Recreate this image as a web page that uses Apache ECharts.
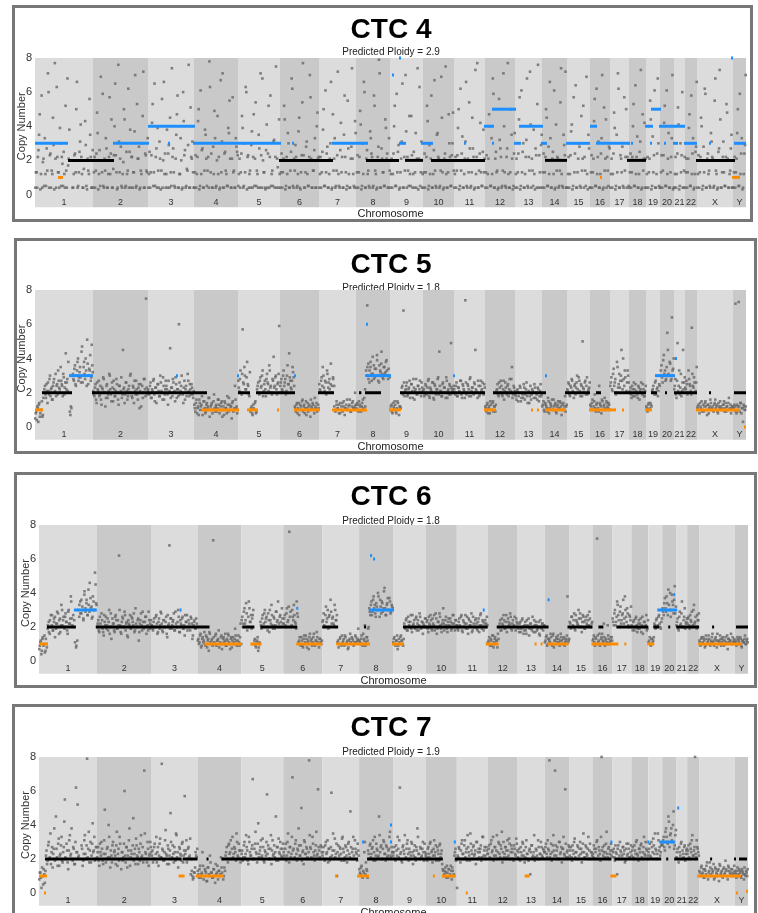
<!DOCTYPE html>
<html>
<head>
<meta charset="utf-8">
<script src="https://cdn.jsdelivr.net/npm/echarts@6/dist/echarts.min.js"></script>
<style>
  html, body { margin: 0; padding: 0; background: #fff; width: 758px; height: 913px; overflow: hidden; }
  .chart { position: absolute; }
  .frame { position: absolute; border: 3px solid #777; box-sizing: border-box; pointer-events: none; }
</style>
</head>
<body>
<script>
// chromosomes, widths in plot units (roughly proportional to length)
const chromNames = ['1','2','3','4','5','6','7','8','9','10','11','12','13','14','15','16','17','18','19','20','21','22','X','Y'];
const chromSizes = [58,55,46,44,42,39,37,34,33,31,31,30,27,25,23,20,19,17,14,14,11,12,36,13];
const yTicks = [0, 2, 4, 6, 8];

// copy number per bin, in tenths, one list per chromosome (null = no bin)
// two interleaved bin sets (A/B) per cell
const ctc4Ploidy = 2.9;
const ctc4BinsA = [
  [4,13,22,35,3,58,19,5,12,27,71,4,24,14,45,3,21,63,13,4,30,22,5,12,52,4,17,38,null,null,4,23,13,66,5,25,41,12,4,20,29,3,14,56,22,4],
  [4,22,14,48,3,26,69,13,5,21,33,4,12,57,24,4,15,40,23,3,76,13,28,4,19,44,5,12,62,25,4,22,13,37,4,53,21,3,14,30,72,4,23,13],
  [4,25,13,42,5,65,22,4,14,31,3,56,20,12,4,38,24,4,13,74,27,5,21,47,4,12,33,3,60,23,4,15,29,4,51,21,13],
  [4,23,12,43,3,61,26,4,14,35,5,22,78,13,4,28,49,4,20,12,3,67,31,4,24,14,5,39,55,4,21,13,4,33,25],
  [5,21,13,46,4,30,63,3,23,12,4,37,22,5,54,14,4,27,71,4,20,13,3,41,24,4,58,12,5,32,22,4,16,44],
  [4,24,13,52,3,22,36,4,14,68,5,21,29,4,12,45,3,23,77,4,13,31,5,22,57,4,14,26,4,40,21],
  [4,22,13,38,5,61,24,4,12,30,3,47,21,4,14,72,5,26,13,4,35,22,3,55,12,4,28,21,5,43],
  [4,23,13,49,3,30,66,4,21,12,5,37,24,4,58,14,3,22,79,4,27,13,5,44,21,4,33],
  [4,21,12,40,5,59,25,3,13,31,4,22,70,4,14,46,5,23,12,4,36,21,3,63,13,4],
  [4,24,13,52,3,29,21,4,12,67,5,35,22,4,14,45,3,21,75,4,13,30,5,23,48],
  [4,22,14,39,3,62,24,4,12,31,5,21,54,4,13,27,3,73,22,4,14,42,5,25,13],
  [4,23,12,47,5,33,68,4,21,13,3,56,27,4,14,40,5,22,77,4,13,35,3,24],
  [4,21,13,44,3,61,25,4,12,32,5,22,72,4,14,38,3,23,53,4,13,29],
  [4,24,13,50,5,28,66,4,21,12,3,41,22,4,14,74,5,35,23,4],
  [4,22,12,37,3,57,24,4,13,30,5,46,21,4,14,69,3,27],
  [4,23,13,43,5,62,22,4,12,33,3,51,21,4,14,28],
  [4,21,12,48,3,35,71,4,23,13,5,57,22,4,30],
  [4,24,13,40,5,64,22,4,12,31,3,47,21,4],
  [4,22,13,55,3,34,23,4,12,68,5],
  [4,23,14,42,5,61,21,4,13,33,3],
  [4,22,12,51,3,30,23,4,14],
  [4,21,13,39,5,58,24,3,12,28],
  [4,23,13,45,3,28,62,4,21,12,5,36,22,4,55,14,3,25,73,4,13,31,5,22,48,4,12,27,4],
  [4,22,13,36,5,59,24,3,12,29]
];
const ctc4BinsB = [
  [13,4,26,47,12,4,21,33,5,14,60,23,4,12,29,77,4,22,13,39,5,18,25,4,14,68,21,null,null,4,12,24,50,4,13,31,22,4,15,43,5,21,12,35,4,26],
  [13,4,24,36,12,5,20,59,4,14,27,4,22,12,44,4,23,65,13,4,31,21,5,12,50,4,25,14,4,38,22,4,13,70,5,21,28,4,12,46,4,24,14,33],
  [12,4,23,53,13,5,27,39,4,21,14,4,66,24,12,4,29,45,5,22,13,4,35,58,4,12,20,4,43,26,5,14,76,4,22,31,4],
  [13,4,22,50,5,12,27,4,38,21,14,4,63,24,4,12,33,5,46,22,4,13,71,4,25,12,5,36,21,4,57,14,4,28,23],
  [12,4,24,39,5,13,60,22,4,14,29,4,47,21,5,12,35,4,23,68,13,4,26,4,52,22,5,14,31,4,75,21,4,12],
  [13,4,21,44,5,12,30,4,25,62,4,14,22,5,37,4,13,54,23,4,28,12,5,70,21,4,14,33,4,48,22],
  [12,4,25,50,5,13,28,4,21,66,4,14,33,5,23,12,4,42,22,4,58,13,5,27,4,21,74,12,4,36],
  [13,4,22,41,5,12,60,4,26,14,4,33,22,5,52,12,4,28,71,4,21,13,5,39,24,4,14],
  [12,4,24,52,5,13,29,4,21,65,4,14,37,22,5,12,46,4,25,13,4,74,21,5,31,12],
  [13,4,22,43,5,12,58,4,26,14,4,36,21,5,69,13,4,24,12,4,47,22,5,30,14],
  [12,4,23,50,5,14,34,4,21,66,4,13,27,5,45,22,4,12,77,4,24,13,5,38,21],
  [13,4,21,40,5,12,59,4,25,14,4,32,22,5,71,13,4,27,12,4,50,21,5,36],
  [12,4,24,57,5,13,30,4,22,68,4,14,41,21,5,12,27,4,76,23,4,35],
  [13,4,22,45,5,12,33,4,25,61,4,14,21,5,54,12,4,29,72,4],
  [12,4,23,41,5,13,64,4,21,28,4,14,52,22,5,12,35,4],
  [13,4,21,56,5,12,31,4,24,70,4,14,44,22,5,27],
  [12,4,24,39,5,13,62,4,21,28,4,14,50,22,5],
  [13,4,22,53,5,12,34,4,25,73,4,14,42,21],
  [12,4,21,44,5,13,61,4,24,30,4],
  [13,4,23,52,5,12,36,4,22,70,4],
  [12,4,24,41,5,13,60,4,22],
  [13,4,21,47,5,12,33,4,25,66],
  [12,4,22,40,5,13,59,4,24,14,4,31,21,5,68,12,4,27,44,4,22,13,5,53,21,4,14,35,4],
  [13,4,21,50,5,12,33,4,24,70]
];
// segments: [start, end, copy number] in genome units
const ctc4Segments = [
  [0,33,3],[23,28,1],[33,79,2],[78,114,3],[113,160,4],[133,135,3],[158,246,3],[257,259,3],[244,298,2],
  [297,333,3],[331,364,2],[357,359,7],[364,366,8],[364,371,3],[370,388,2],[386,398,3],[396,450,2],[429,431,3],
  [449,459,4],[457,481,5],[457,459,3],[479,486,3],[484,508,4],[506,512,3],[510,532,2],[531,555,3],[555,562,4],
  [565,567,1],[561,595,3],[596,598,3],[592,611,2],[610,618,4],[616,626,5],[615,617,3],[624,640,4],[629,631,3],
  [640,650,4],[638,643,3],[649,662,3],[674,676,3],[661,700,2],[696,698,8],[697,705,1],[699,711,3]
];

const ctc5Ploidy = 1.8;
const ctc5BinsA = [
  [5,9,12,3,14,8,10,6,17,22,19,25,14,21,28,18,23,16,26,20,31,24,19,27,22,35,25,18,29,23,43,26,21,null,9,12,null,31,27,36,24,33,40,29,35,26,47,30,38,28,33,51,25,34,42,29,36],
  [21,18,25,14,22,27,19,16,23,29,20,12,24,17,21,30,19,26,15,22,18,28,20,13,24,21,17,45,23,19,26,16,22,20,31,18,24,14,21,27,19,23,11,25,20,17,28,22,75,19],
  [22,19,26,17,21,28,15,23,20,25,18,30,21,16,24,19,27,22,13,20,46,23,18,26,21,29,17,22,60,19,24,20,14,27,22,18,31,21,25,19,23,17],
  [13,9,16,11,7,14,12,18,10,15,8,13,11,17,6,12,14,10,19,9,13,11,16,8,12,15,10,7,14,11,18,9,13,12,5,15,10,24,11,8],
  [27,21,33,19,57,25,30,22,38,24,18,9,12,7,11,14,8,22,26,19,29,24,33,21,27,18,31,25,36,23,20,28,41,24,30,19,26,59],
  [24,28,21,33,26,19,30,25,43,27,22,35,29,12,9,14,11,7,13,10,16,12,8,15,11,9,13,6,12,14,10,17,11,9,13],
  [25,21,29,35,23,27,19,31,26,22,37,24,28,12,9,15,11,13,8,10,14,12,7,11,16,10,13,9,12,15,11,20],
  [11,14,9,13,20,12,16,10,22,33,71,37,26,35,31,41,28,34,30,39,27,36,32,44,29,35,31,38,33,28,30],
  [10,13,8,12,15,9,11,14,7,12,20,24,68,18,22,26,19,23,17,25,21,28,16,22,19,24,20,27,18,23],
  [21,18,25,19,23,28,17,22,20,26,16,24,19,22,29,44,21,18,25,20,23,17,27,21,19,24,49,22,20],
  [22,19,26,18,23,20,27,17,24,21,74,19,25,22,28,18,23,20,26,45,21,17,24,19,27,22,20,25],
  [12,9,14,11,8,13,10,15,12,9,21,25,18,23,27,19,22,16,26,20,24,18,28,21,35,19,23],
  [19,16,22,18,24,15,20,17,23,19,26,14,21,18,16,22,20,25,17,19,23,15,21,18],
  [12,15,9,13,11,17,8,14,12,10,16,13,9,12,15,11,14,7,13,10,18,12],
  [22,26,19,24,28,21,17,25,23,30,20,27,18,24,50,22,26,19,29,21,23],
  [13,10,16,12,19,9,14,11,24,13,8,15,12,17,10,14,11,13],
  [24,29,21,34,26,19,38,23,31,27,45,22,28,33,20,26,30],
  [20,23,17,22,26,18,21,19,24,16,22,20,25,18,21],
  [12,9,14,11,13,21,24,19,27,22,18,25],
  [30,36,26,42,33,28,55,31,38,27,64,34],
  [22,28,17,49,24,19,31,21,45,26],
  [23,27,19,33,25,21,58,24,29,20,26],
  [11,13,8,12,15,10,9,14,12,7,13,11,16,10,12,9,14,11,13,8,12,15,10,11,13,9,14,12,10,17,11,8,12],
  [10,13,72,8,12,73,9,14,11,3,12,10]
];
const ctc5BinsB = [
  [8,4,11,13,6,10,15,7,20,24,17,21,26,19,30,22,16,24,28,21,18,25,33,23,20,27,24,31,19,26,22,28,38,null,7,11,null,28,34,25,30,38,27,32,29,44,26,35,31,40,24,37,30,33,27,48,32],
  [19,23,16,26,21,18,24,13,22,28,20,17,25,19,31,22,15,23,27,18,21,25,16,24,20,29,19,22,14,26,21,18,24,30,20,17,23,27,19,22,16,25,21,12,24,20,28,18,23,21],
  [20,24,17,22,27,19,23,14,25,21,18,26,20,29,16,22,24,19,27,21,17,23,28,20,15,25,22,18,26,21,30,19,23,16,24,20,27,18,22,25,19,21],
  [11,14,8,12,16,10,13,7,15,11,9,14,12,17,10,13,8,15,11,12,9,16,13,10,14,6,12,15,11,8,13,17,10,12,14,9,11,16,12,10],
  [23,28,20,31,26,35,22,29,25,19,32,11,8,13,10,15,9,24,20,27,23,30,18,25,22,28,26,21,33,24,19,27,23,29,22,25,31,20],
  [26,22,30,24,28,21,36,25,29,23,27,32,24,11,13,8,14,10,12,15,9,13,11,7,14,12,10,16,11,13,8,12,14,10,11],
  [22,27,24,30,21,26,33,23,28,25,20,29,24,10,13,11,8,14,12,9,15,11,13,10,12,16,9,14,11,12,13],
  [13,10,15,12,9,14,11,17,12,30,35,28,33,38,27,31,36,29,34,42,30,26,33,37,31,28,35,32,39,30,34,29],
  [12,9,14,11,13,8,15,10,12,11,23,19,26,21,24,18,22,27,20,25,17,23,21,28,19,24,22,20,26,21],
  [22,19,24,20,27,18,23,21,26,17,25,20,22,28,19,24,21,18,26,23,20,29,17,22,25,19,23,21,24],
  [20,24,18,23,21,27,19,25,22,17,26,20,24,18,29,21,23,19,25,22,20,27,18,24,21,26,19,23],
  [11,13,8,12,15,10,14,9,12,13,22,19,26,20,24,18,27,21,23,19,25,22,20,28,17,24,21],
  [18,21,15,20,23,17,19,25,16,22,18,20,14,24,19,21,17,23,20,16,22,18,25,19],
  [13,10,14,12,9,15,11,13,16,10,12,14,8,13,11,15,12,10,14,12,9,13],
  [21,25,18,23,27,20,24,19,26,22,29,21,25,18,23,20,27,24,19,22,26],
  [12,14,10,15,11,13,20,9,14,12,16,10,13,11,15,12,14,10],
  [26,22,31,24,28,20,35,25,23,30,27,40,24,29,21,33,26],
  [21,19,24,18,22,25,20,17,23,21,26,19,22,18,24],
  [11,13,10,14,12,22,20,26,19,23,21,24],
  [33,29,39,31,27,35,45,30,37,28,33,40],
  [24,19,27,21,33,23,18,26,22,29],
  [22,25,20,28,24,19,31,23,26,21,35],
  [12,10,14,11,9,13,12,15,10,13,8,12,14,11,10,13,16,12,9,14,11,12,10,13,15,11,9,12,14,10,13,11,12],
  [11,12,9,13,10,12,14,8,11,13,10,12]
];
const ctc5Segments = [
  [0,8,1],[7,37,2],[34,58,3],[57,172,2],[141,143,3],[167,204,1],[202,204,3],[203,215,2],[212,223,1],[221,260,2],
  [242,244,1],[259,261,3],[259,285,1],[283,299,2],[297,332,1],[324,326,2],[330,346,2],[331,356,3],[331,333,6],
  [354,366,1],[365,450,2],[418,420,3],[449,461,1],[458,511,2],[496,498,1],[502,504,1],[510,512,3],[510,531,1],
  [530,555,2],[561,566,2],[554,581,1],[587,589,1],[579,611,2],[610,617,1],[616,622,2],[620,640,3],[630,632,2],
  [640,642,4],[639,662,2],[674,676,2],[661,705,1],[699,711,2],[709,711,0]
];

const ctc6Ploidy = 1.8;
const ctc6BinsA = [
  [7,11,4,13,9,15,6,10,19,23,16,27,21,18,25,14,22,29,20,24,17,33,21,26,19,28,23,16,30,22,38,25,20,null,11,8,null,30,26,35,28,32,24,41,29,36,27,33,46,31,25,38,30,52,34],
  [20,24,17,22,28,19,15,23,26,21,18,30,20,13,25,22,17,27,19,24,62,21,16,26,20,29,18,23,14,22,27,19,25,21,17,31,20,24,12,22,28,18,23,20,26,16,21,29,19,24],
  [21,18,25,20,27,16,23,19,29,22,17,24,20,26,14,21,68,25,19,23,28,18,22,20,30,17,24,21,26,19,15,23,27,20,22,18,25,13,21,24,19,22],
  [12,10,15,8,13,11,17,9,14,12,6,16,10,13,71,11,15,9,12,18,10,14,7,13,11,16,9,12,15,10,13,8,14,11,19,12,10,15,9,22],
  [24,20,29,22,34,18,26,31,23,19,27,10,13,8,12,6,11,23,19,27,22,30,25,20,28,17,24,33,21,26,19,29,23,35,22,27,20,25],
  [22,27,20,31,24,76,29,21,26,33,23,19,28,11,14,9,12,8,15,10,13,11,7,16,12,9,14,10,12,17,11,8,13,10],
  [23,28,20,32,25,19,27,36,22,26,21,30,24,11,8,13,10,15,12,9,14,11,7,12,16,10,13,9,11,14,12,19],
  [12,10,15,9,13,21,11,14,19,31,27,35,29,38,33,26,32,40,30,36,28,34,31,43,27,33,37,30,35,29,32],
  [11,14,9,12,7,13,10,15,12,9,22,19,25,18,23,20,27,17,21,24,19,26,22,18,28,20,23,16,21,25],
  [20,24,17,22,27,19,25,21,18,28,16,23,20,26,19,22,31,18,24,21,17,25,20,23,19,27,22,18,24],
  [21,18,25,20,27,17,23,22,19,26,16,24,21,28,18,22,20,25,19,23,17,27,21,24,18,22,20,26],
  [11,14,9,12,15,8,13,10,12,16,20,24,18,22,27,19,23,17,25,21,28,19,22,20,26,18,23],
  [20,17,23,19,25,16,21,18,24,20,15,22,19,26,17,21,23,18,20,16,24,19,22,21],
  [11,14,9,13,12,16,10,15,8,12,14,11,13,9,16,12,10,14,11,13,38,12],
  [23,19,26,21,28,18,24,22,30,20,25,17,27,23,19,26,21,24,29,20,22],
  [12,15,9,13,72,11,16,10,14,12,22,9,13,11,15,10,12,14],
  [25,21,30,23,35,27,20,32,24,28,22,38,26,31,21,27,24],
  [21,18,24,20,26,17,22,19,25,21,16,23,20,27,19],
  [11,14,9,13,12,22,19,25,21,27,20,23],
  [31,27,37,29,34,42,30,26,39,33,36,28],
  [21,25,18,29,22,35,20,26,19,23],
  [22,26,19,24,29,21,33,23,20,27,24],
  [12,9,14,11,13,8,15,10,12,13,9,11,16,12,10,14,8,12,11,15,9,13,12,10,14,11,7,13,12,16,10,11,13],
  [11,9,14,12,10,13,8,12,11,15,10,13]
];
const ctc6BinsB = [
  [9,12,6,14,10,5,13,8,21,17,24,20,27,18,23,26,19,22,28,16,25,21,30,24,20,26,23,18,29,22,25,35,21,27,24,null,9,12,null,33,28,36,30,25,39,31,34,27,42,29,37,32,26,35,30,45,33],
  [22,18,26,20,24,17,27,21,19,25,23,16,28,20,22,18,26,24,19,21,30,17,23,25,20,27,22,15,24,21,19,26,23,28,18,22,20,25,17,24,21,29,19,23,26,20,18,24,22,21],
  [19,23,20,26,22,17,25,21,28,18,24,20,23,16,27,22,19,25,21,24,18,29,20,23,26,17,22,25,19,21,27,23,18,24,20,26,22,15,23,19,25,20],
  [13,11,16,9,14,12,10,15,8,13,17,11,12,9,14,10,16,12,13,8,11,15,10,14,12,9,13,16,11,7,14,12,10,13,15,9,12,11,14,10],
  [26,22,31,24,28,20,35,23,27,25,30,12,9,11,14,8,10,21,25,20,28,23,26,18,24,30,22,27,19,25,21,29,24,20,26,23,31,22],
  [25,21,28,23,32,26,20,30,24,27,22,35,26,12,10,14,9,13,11,15,8,12,14,10,13,11,16,9,12,14,10,13,11,12],
  [24,21,27,23,30,26,20,29,25,22,33,24,27,12,10,14,9,11,13,15,10,12,8,13,11,14,12,10,15,11,13,12],
  [11,13,10,16,12,9,14,12,20,29,33,27,36,31,28,34,30,38,26,32,35,29,41,31,27,34,30,37,28,33,31],
  [13,10,12,15,9,11,14,12,10,13,20,24,18,26,21,23,19,27,22,20,25,18,24,21,26,19,23,22,20,25],
  [23,19,26,21,24,18,22,27,20,25,19,23,28,21,17,24,22,20,26,19,23,21,25,18,22,27,20,24,21],
  [19,23,21,26,18,24,20,27,22,19,25,21,23,17,26,20,24,22,18,25,21,28,19,23,20,24,22,21],
  [12,10,13,9,15,11,14,12,8,13,22,18,25,21,24,19,27,20,23,22,26,18,24,21,20,25,22],
  [19,22,17,24,20,18,23,16,21,25,19,22,18,20,24,17,21,19,23,15,20,22,18,21],
  [12,15,10,13,11,14,9,16,12,10,13,15,11,12,14,10,13,9,12,15,11,13],
  [22,26,20,24,19,27,23,21,25,28,20,23,26,19,24,22,27,21,25,20,23],
  [13,11,14,10,15,12,9,13,16,11,14,12,10,21,13,11,14,12],
  [23,28,21,26,33,24,29,22,27,36,25,30,23,28,20,26,32],
  [20,23,18,25,21,19,24,22,17,26,20,23,21,18,24],
  [12,10,13,11,14,21,24,20,26,22,19,25],
  [29,34,31,38,27,33,40,30,35,28,44,32],
  [23,19,26,21,28,20,24,31,22,25],
  [25,21,27,23,20,30,22,26,19,24,28],
  [11,13,10,14,12,9,13,11,15,10,12,14,11,9,13,12,16,10,12,13,11,14,9,12,10,15,13,11,12,10,14,12,11],
  [12,10,13,11,14,9,12,11,13,10,12,11]
];
const ctc6Segments = [
  [1,9,1],[8,37,2],[35,58,3],[57,171,2],[141,143,3],[166,203,1],[204,216,2],[212,223,1],[222,259,2],[258,260,3.1],
  [258,284,1],[284,300,2],[298,332,1],[326,328,2],[331,356,3],[332,334,6.2],[335,337,6],[354,366,1],[365,450,2],
  [445,447,3],[448,461,1],[459,511,2],[497,499,1],[503,505,1],[510,512,3.6],[510,531,1],[530,555,2],[561,566,2],
  [554,581,1],[587,589,1],[579,611,2],[610,617,1],[616,622,2],[620,640,3],[631,633,2],[636,638,3.9],[639,662,2],
  [675,677,2],[661,705,1],[699,711,2]
];

const ctc7Ploidy = 1.9;
const ctc7BinsA = [
  [8,12,3,10,14,6,22,17,28,20,35,24,15,26,19,45,21,29,16,23,33,18,27,55,20,25,14,31,22,38,19,26,17,62,24,21,null,null,28,16,23,34,20,79,26,18,30,22,41,25,19,27],
  [21,27,16,24,30,19,23,49,18,26,21,33,15,22,28,20,25,17,36,23,19,29,14,24,21,60,18,27,22,31,16,25,20,44,23,17,28,21,26,19,34,22,18,72,24,20,30,16,23,27],
  [22,18,27,20,33,24,16,29,21,76,25,19,31,23,17,26,22,47,20,28,18,24,35,21,15,27,23,19,30,22,57,25,18,26,21,32,20,10,9,12,24,21],
  [13,9,16,11,24,8,14,12,7,15,10,18,12,9,14,6,11,16,13,10,21,12,8,15,22,27,18,29,24,20,33,23,26,19,30,21,25,18],
  [23,19,28,21,34,25,17,30,22,26,67,20,29,24,18,41,23,27,21,32,19,25,22,58,28,20,26,17,31,23,21,45,27,19,24,30,22,26],
  [24,20,29,22,35,18,27,23,68,26,21,31,19,25,28,22,50,24,17,30,23,26,20,78,27,21,33,24,19,28,22,61,25,20,27],
  [22,27,19,30,24,18,26,21,59,25,20,32,23,10,28,22,26,19,33,24,21,27,18,29,23,48,20,26,22,31,24,19,25],
  [14,11,16,9,12,30,18,13,25,20,29,23,27,19,33,22,26,21,45,24,28,20,31,23,19,27,22,26,36,21,24],
  [22,27,19,25,33,21,62,24,18,28,23,20,26,31,19,24,22,29,17,25,21,27,38,23,20,26,22,30,19,24],
  [23,19,27,21,30,24,18,26,22,28,20,25,19,29,23,17,13,11,15,9,12,14,10,16,8,13,11,24,19],
  [3,21,26,18,29,23,20,31,24,19,27,22,35,25,20,28,23,17,30,24,21,26,19,33,22,27,20,25],
  [23,28,20,31,25,19,27,22,34,24,29,21,26,18,30,23,27,21,25,32,20,28,24,19,26,22,29],
  [21,26,19,24,30,22,18,27,23,20,25,11,28,21,24,19,26,22,31,20,23,27,21,25],
  [24,29,21,26,78,23,19,28,25,72,22,27,20,30,24,18,26,23,61,21,25,28],
  [22,27,19,25,30,21,24,28,20,26,23,18,29,24,21,27,22,33,25,20,24],
  [23,28,20,26,31,22,25,19,80,27,24,21,29,23,26,20,25,22],
  [21,26,19,24,11,28,22,25,20,27,23,18,26,22,29,21,24],
  [22,27,20,25,30,23,19,26,28,21,24,33,22,26,20],
  [24,29,21,27,32,23,26,20,35,25,22,28],
  [28,33,25,38,30,45,27,35,31,40,26,34],
  [21,26,18,24,29,20,23,27,19,25],
  [23,28,20,26,31,22,25,80,21,27,24],
  [13,10,16,12,9,14,11,18,8,13,15,10,12,17,9,14,11,13,7,16,12,10,14,11,19,13,8,15,12,10,14,11,16],
  [12,9,15,11,13,10,14,12,8,11,13,10]
];
const ctc7BinsB = [
  [12,9,15,5,11,13,25,19,30,21,17,27,23,38,20,26,16,32,22,28,19,24,42,21,29,18,25,34,23,20,27,17,30,24,52,22,null,null,26,19,31,23,28,21,36,25,18,29,24,33,20,27],
  [24,19,29,22,26,17,31,23,20,27,40,21,25,18,30,24,22,28,16,26,33,20,24,19,29,22,27,15,25,38,21,23,28,19,26,32,22,17,24,29,21,27,20,35,23,18,26,22,30,24],
  [25,20,29,23,18,27,22,32,21,26,19,24,37,22,28,17,25,30,21,23,27,19,34,24,20,26,22,29,18,25,23,31,20,27,22,11,13,8,12,15,22,26],
  [11,14,9,12,16,10,13,7,15,11,22,12,9,14,10,17,12,8,13,11,15,20,10,13,24,20,28,23,31,26,21,27,24,35,22,29,25,20],
  [25,21,30,23,27,19,33,24,22,28,20,26,36,23,29,21,25,31,22,27,18,24,30,23,26,20,34,25,22,28,24,19,27,32,23,26,21,29],
  [22,26,19,30,24,27,21,33,25,20,29,23,26,38,22,28,19,25,31,23,27,21,24,34,26,20,29,22,25,36,23,27,21,28,24],
  [24,20,28,23,31,26,19,27,22,35,25,21,29,24,20,27,23,32,26,19,28,22,25,30,21,27,24,33,20,26,23,29,22],
  [12,15,10,13,24,11,14,9,23,28,21,26,31,24,19,29,25,22,34,27,20,26,30,23,28,21,25,33,22,27,24],
  [24,20,28,22,26,31,23,19,27,25,34,21,29,23,26,20,30,24,22,28,19,25,33,23,27,21,26,24,29,22],
  [21,26,23,29,20,25,22,31,24,19,27,23,28,21,25,14,10,13,12,16,9,14,11,13,15,10,22,26,20],
  [22,27,20,25,31,23,28,21,26,34,24,19,29,23,27,22,25,30,20,26,24,28,21,33,25,22,27,23],
  [26,21,29,24,33,22,27,25,20,30,23,28,36,24,21,27,25,31,22,29,24,26,20,28,23,32,25],
  [24,20,27,22,29,25,21,31,23,19,26,24,28,22,34,21,25,20,27,23,30,22,26,24],
  [27,23,31,25,21,29,24,34,22,28,25,20,30,23,27,26,33,22,29,24,21,27],
  [25,21,28,23,32,24,20,27,22,30,26,24,35,21,28,23,26,20,29,24,22],
  [21,26,24,30,20,27,23,33,25,22,28,24,36,21,27,23,29,25],
  [24,21,28,23,26,20,30,24,22,27,25,19,29,23,26,21,28],
  [25,21,28,23,31,22,26,24,29,20,27,23,30,25,22],
  [26,22,30,24,28,35,25,23,31,27,24,29],
  [31,27,36,33,29,42,34,38,30,48,28,37],
  [24,20,27,22,30,25,21,28,23,26],
  [25,21,29,24,34,22,27,23,31,26,22],
  [12,15,11,14,9,13,16,10,12,18,11,14,13,8,15,12,10,14,17,11,13,9,15,12,14,10,16,13,11,14,12,10,13],
  [11,13,10,14,12,9,13,11,15,10,12,14]
];
const ctc7Segments = [
  [0,8,1],[5,7,0],[6,143,2],[140,146,1],[144,159,2],[157,185,1],[168,170,2],[183,320,2],[297,299,1],[319,331,1],
  [324,326,3],[329,405,2],[352,354,3],[352,354,4],[395,397,1],[404,418,1],[416,418,3],[428,430,0],[417,574,2],
  [487,492,1],[573,575,3],[573,579,1],[577,624,2],[610,612,3],[622,638,3],[629,631,2],[640,642,5],[637,661,2],
  [673,675,2],[660,704,1],[697,699,2],[699,701,0],[702,710,2],[709,711,0.1]
];

const chromStarts = [];
let genomeLength = 0;
chromSizes.forEach(s => { chromStarts.push(genomeLength); genomeLength += s; });

const FONT = 'Liberation Sans, Arial, sans-serif';
const bandLight = '#dcdcdc';
const bandDark = '#c9c9c9';

// page layout: box = [left, top, width, height], grid inside the box
const panels = [
  { name: 'CTC 4', ploidy: ctc4Ploidy, bins: [ctc4BinsA, ctc4BinsB], segments: ctc4Segments,
    box: [12, 5, 741, 217], grid: [23, 53, 711, 136.5], titleY: 25, subY: 47 },
  { name: 'CTC 5', ploidy: ctc5Ploidy, bins: [ctc5BinsA, ctc5BinsB], segments: ctc5Segments,
    box: [14, 238, 743, 216], grid: [21, 52, 711, 137], titleY: 27, subY: 50 },
  { name: 'CTC 6', ploidy: ctc6Ploidy, bins: [ctc6BinsA, ctc6BinsB], segments: ctc6Segments,
    box: [14, 472, 743, 216], grid: [25, 53, 709, 136], titleY: 25, subY: 49 },
  { name: 'CTC 7', ploidy: ctc7Ploidy, bins: [ctc7BinsA, ctc7BinsB], segments: ctc7Segments,
    box: [12, 704, 745, 215], grid: [27, 53, 709, 136], titleY: 24, subY: 48 }
];

function binPoints(sets) {
  const pts = [];
  sets.forEach((bins, s) => {
    const off = (s + 0.5) / sets.length;
    bins.forEach((vals, c) => {
      const step = chromSizes[c] / vals.length;
      vals.forEach((v, k) => {
        if (v !== null) pts.push([chromStarts[c] + (k + off) * step, v / 10]);
      });
    });
  });
  return pts;
}

function segColor(cn) {
  if (cn > 2) return '#1e8fff';
  if (cn < 2) return '#ff8c00';
  return '#000';
}

function makeOption(p) {
  const cx = 391 - p.box[0];
  return {
    animation: false,
    graphic: [
      { type: 'text', z: 0, x: cx, y: p.titleY,
        style: { text: p.name, font: 'bold 28px ' + FONT, fill: '#000', align: 'center', verticalAlign: 'middle', textAlign: 'center', textVerticalAlign: 'middle' } },
      { type: 'text', z: 0, x: cx, y: p.subY,
        style: { text: 'Predicted Ploidy = ' + p.ploidy.toFixed(1), font: '10px ' + FONT, fill: '#222', align: 'center', verticalAlign: 'middle', textAlign: 'center', textVerticalAlign: 'middle' } }
    ],
    grid: { left: p.grid[0], top: p.grid[1], width: p.grid[2], height: p.grid[3], containLabel: false, outerBoundsMode: 'none' },
    xAxis: {
      type: 'value', min: 0, max: genomeLength,
      axisLine: { show: false }, axisTick: { show: false }, axisLabel: { show: false }, splitLine: { show: false },
      name: 'Chromosome', nameLocation: 'middle', nameGap: 14, nameMoveOverlap: false,
      nameTextStyle: { fontSize: 11, color: '#222', fontFamily: FONT }
    },
    yAxis: {
      type: 'value', min: yTicks[0], max: yTicks[yTicks.length - 1], interval: 2,
      axisLine: { show: false }, axisTick: { show: false }, splitLine: { show: false },
      axisLabel: { margin: 3, fontSize: 11, color: '#333', fontFamily: FONT },
      name: 'Copy Number', nameLocation: 'middle', nameGap: 8, nameMoveOverlap: false,
      nameTextStyle: { fontSize: 11, color: '#333', fontFamily: FONT }
    },
    series: [
      {
        type: 'custom', z: 1, silent: true, clip: false,
        data: chromNames.map((n, i) => [chromStarts[i], chromStarts[i] + chromSizes[i], i]),
        renderItem(params, api) {
          const a = api.coord([api.value(0), 8]);
          const b = api.coord([api.value(1), -0.75]);
          const i = api.value(2);
          const ly = api.coord([0, -0.45])[1];
          return {
            type: 'group',
            children: [
              { type: 'rect', shape: { x: a[0], y: a[1], width: b[0] - a[0], height: b[1] - a[1] },
                style: { fill: i % 2 ? bandDark : bandLight } },
              { type: 'text', x: (a[0] + b[0]) / 2, y: ly,
                style: { text: chromNames[i], font: '9px ' + FONT, fill: '#333', align: 'center', verticalAlign: 'middle', textAlign: 'center', textVerticalAlign: 'middle' } }
            ]
          };
        }
      },
      {
        type: 'scatter', z: 2, silent: true,
        symbol: 'rect', symbolSize: 2.6,
        itemStyle: { color: '#686868' },
        data: binPoints(p.bins)
      },
      {
        type: 'custom', z: 3, silent: true, clip: false,
        data: p.segments,
        renderItem(params, api) {
          const cn = api.value(2);
          const a = api.coord([api.value(0), cn]);
          const b = api.coord([api.value(1), cn]);
          return { type: 'rect', shape: { x: a[0], y: a[1] - 1.5, width: Math.max(b[0] - a[0], 2), height: 3 },
                   style: { fill: segColor(cn) } };
        }
      }
    ]
  };
}

panels.forEach(p => {
  const el = document.createElement('div');
  el.className = 'chart';
  el.style.left = p.box[0] + 'px';
  el.style.top = p.box[1] + 'px';
  el.style.width = p.box[2] + 'px';
  el.style.height = p.box[3] + 'px';
  document.body.appendChild(el);
  const frame = document.createElement('div');
  frame.className = 'frame';
  frame.style.left = p.box[0] + 'px';
  frame.style.top = p.box[1] + 'px';
  frame.style.width = p.box[2] + 'px';
  frame.style.height = p.box[3] + 'px';
  document.body.appendChild(frame);
  const chart = echarts.init(el, null, { renderer: 'canvas' });
  chart.setOption(makeOption(p));
});
</script>
</body>
</html>
